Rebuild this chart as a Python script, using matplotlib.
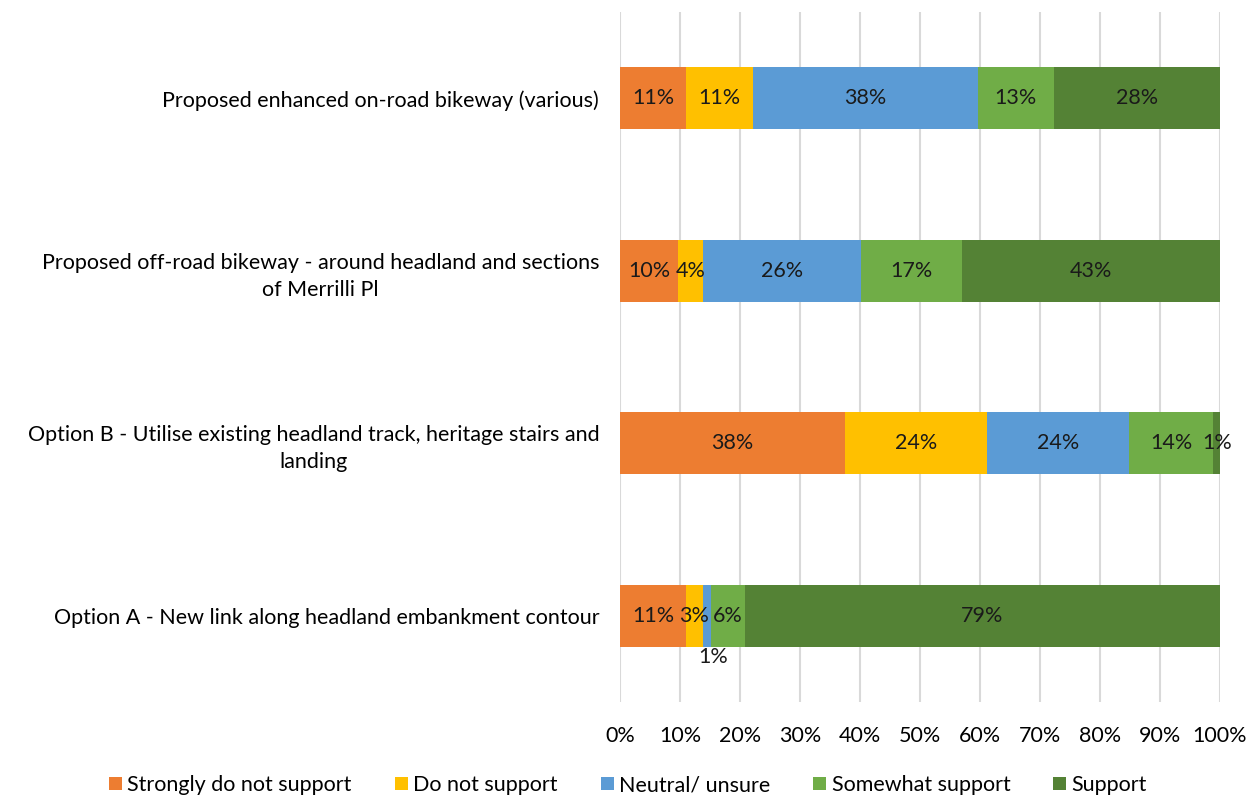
import matplotlib.pyplot as plt
from matplotlib.ticker import PercentFormatter

plt.rcParams['font.family'] = ['Lato', 'DejaVu Sans']

categories = [
    "Option A - New link along headland embankment contour",
    "Option B - Utilise existing headland track, heritage stairs and\nlanding",
    "Proposed off-road bikeway - around headland and sections\nof Merrilli Pl",
    "Proposed enhanced on-road bikeway (various)",
]
series = ["Strongly do not support", "Do not support", "Neutral/ unsure",
          "Somewhat support", "Support"]
# percent per category (bottom to top)
strongly_not = [11.0, 37.5, 9.7, 11.0]
not_support = [2.8, 23.7, 4.2, 11.1]
neutral = [1.3, 23.7, 26.3, 37.5]
somewhat = [5.7, 14.0, 16.8, 12.7]
support = [79.2, 1.1, 43.0, 27.7]
colors = ["#ED7D31", "#FFC000", "#5B9BD5", "#70AD47", "#548235"]

fig = plt.figure(figsize=(12.56, 7.98), dpi=100)
ax = fig.add_axes([620 / 1256, 1 - 702 / 798, 600 / 1256, 690 / 798])

fs = 15.5
y = range(len(categories))
left = [0.0] * len(categories)
for name, vals, col in zip(series, [strongly_not, not_support, neutral, somewhat, support], colors):
    ax.barh(y, vals, left=left, height=0.36, color=col, label=name, zorder=3)
    for i, v in enumerate(vals):
        cx = left[i] + v / 2
        cy = i
        if i == 0 and name == "Neutral/ unsure":
            cx += 1.0
            cy = -0.24  # label pushed below the thin segment
        ax.text(cx, cy, f"{round(v):d}%", ha="center", va="center",
                fontsize=fs, color="#1a1a1a", zorder=4)
    left = [l + v for l, v in zip(left, vals)]

ax.set_xlim(0, 100)
ax.set_ylim(-0.5, 3.5)
ax.set_xticks(range(0, 101, 10))
ax.xaxis.set_major_formatter(PercentFormatter(decimals=0))
ax.set_yticks(list(y))
ax.set_yticklabels(categories, fontsize=fs, ha="right", multialignment="center",
                   linespacing=1.45)
ax.tick_params(axis="y", length=0, pad=15)
ax.tick_params(axis="x", length=0, pad=17, labelsize=fs)
ax.grid(axis="x", color="#d9d9d9", linewidth=1.5, zorder=0)
for s in ax.spines.values():
    s.set_visible(False)

fig.legend(loc="center", bbox_to_anchor=(0.5, 1 - 785 / 798), ncol=5, frameon=False,
           fontsize=fs, handlelength=0.6, handleheight=0.6, handletextpad=0.25,
           columnspacing=2.0)

fig.savefig("out.png", dpi=100)
